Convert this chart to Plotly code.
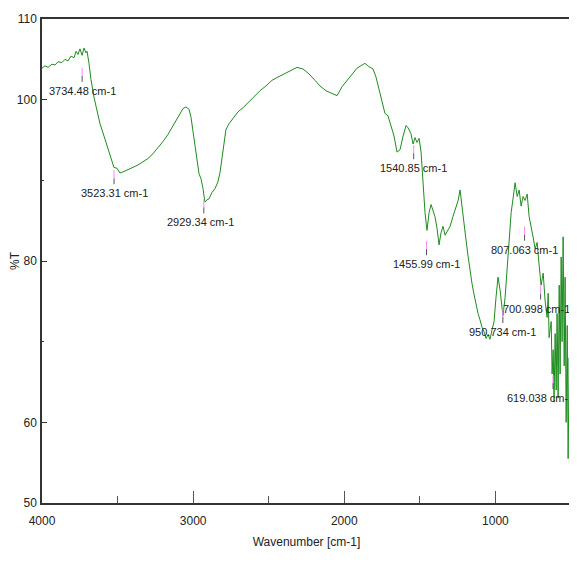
import plotly.graph_objects as go

# Spectrum (wavenumber cm-1, %T)
wavenumber = [4000, 3980, 3960, 3934, 3914, 3894, 3868, 3848, 3828, 3808, 3788, 3775, 3762, 3749, 3735,
              3722, 3709, 3702, 3689, 3676, 3656, 3636, 3616, 3590, 3563, 3544, 3524, 3504, 3484, 3457,
              3431, 3398, 3365, 3332, 3299, 3266, 3233, 3200, 3166, 3140, 3113, 3087, 3067, 3047, 3027,
              3014, 3001, 2988, 2974, 2961, 2948, 2935, 2922, 2908, 2895, 2875, 2855, 2836, 2822, 2809,
              2796, 2783, 2763, 2736, 2703, 2670, 2637, 2597, 2558, 2518, 2478, 2439, 2399, 2359, 2313,
              2273, 2234, 2194, 2161, 2121, 2088, 2048, 2015, 1982, 1949, 1916, 1882, 1863, 1837, 1810,
              1790, 1770, 1750, 1731, 1711, 1691, 1671, 1651, 1631, 1611, 1591, 1578, 1559, 1545, 1532,
              1519, 1505, 1492, 1479, 1466, 1453, 1439, 1426, 1413, 1400, 1386, 1373, 1360, 1347, 1333,
              1320, 1300, 1281, 1261, 1247, 1234, 1221, 1207, 1194, 1181, 1168, 1155, 1141, 1128, 1115,
              1102, 1089, 1075, 1062, 1049, 1036, 1022, 1009, 996, 983, 970, 956, 950, 936, 923,
              910, 896, 883, 870, 856, 843, 830, 817, 804, 790, 777, 764, 751, 737, 724,
              711, 698, 684, 671, 658, 651, 645, 631, 625, 618, 612, 605, 598, 592, 585,
              578, 572, 565, 559, 552, 545, 539, 532, 525, 519, 512, 506, 500]
transmittance = [103.9, 104.2, 104.0, 104.4, 104.3, 104.7, 104.6, 105.0, 104.8, 105.4, 105.2, 106.0, 105.6, 106.3, 105.5,
                 106.4, 105.8, 106.0, 104.5, 102.5, 100.3, 98.5, 97.0, 95.5, 93.8, 92.7, 91.6, 91.5, 90.9, 91.1,
                 91.3, 91.6, 91.9, 92.3, 92.7, 93.3, 94.0, 94.8, 95.7, 96.5, 97.4, 98.3, 98.9, 99.1, 98.8,
                 97.8, 96.0, 94.0, 92.5, 90.8, 90.2, 89.0, 87.3, 87.6, 87.7, 88.5, 89.0, 89.8, 91.0, 93.0,
                 95.0, 96.3, 97.0, 97.7, 98.5, 99.0, 99.6, 100.4, 101.1, 101.7, 102.4, 102.8, 103.2, 103.5, 104.0,
                 103.8, 103.2, 102.4, 101.7, 101.1, 100.8, 100.5, 101.6, 102.4, 103.2, 103.9, 104.3, 104.5, 104.1, 103.8,
                 102.8, 101.3, 99.5, 98.3, 98.0, 96.8, 95.5, 93.5, 93.8, 95.5, 96.8, 96.5, 95.8, 94.5, 95.3,
                 94.7, 95.2, 93.5, 89.0, 86.0, 83.8, 86.0, 87.0, 86.2, 85.5, 84.0, 82.0, 83.5, 84.3, 83.2,
                 83.6, 84.3, 85.5, 86.6, 87.5, 88.8, 86.5, 84.3, 82.5, 80.6, 78.5, 77.2, 75.8, 74.5, 73.5,
                 72.7, 71.8, 71.2, 70.4, 70.9, 70.3, 71.5, 72.5, 75.5, 78.0, 76.5, 74.0, 73.2, 75.5, 79.0,
                 82.5, 86.0, 87.8, 89.7, 88.0, 88.8, 86.8, 88.0, 87.5, 88.3, 85.5, 84.0, 83.0, 81.5, 82.3,
                 79.5, 77.0, 78.5, 75.0, 73.0, 76.0, 70.5, 72.5, 66.0, 69.0, 62.5, 71.0, 64.0, 73.5, 63.0,
                 77.0, 66.0, 80.5, 70.0, 83.0, 67.0, 78.0, 60.0, 72.0, 55.5, 68.0, 57.0, 62.0]

# Peak labels
peak_wn = [3734.48, 3523.31, 2929.34, 1540.85, 1455.99, 950.734, 807.063, 700.998, 619.038]
peak_text = ["3734.48 cm-1", "3523.31 cm-1", "2929.34 cm-1", "1540.85 cm-1", "1455.99 cm-1",
             "950.734 cm-1", "807.063 cm-1", "700.998 cm-1", "619.038 cm-1"]
peak_label_y = [101.1, 88.4, 84.8, 91.5, 79.6, 71.2, 81.4, 74.1, 63.0]
peak_label_shift = [0, 0, -3, 0, 0, 0, 0, -4, -13]

x_ticks = [4000, 3000, 2000, 1000, 500]
x_minor = [3500, 2500, 1500]
y_ticks = [50, 60, 80, 100, 110]
y_minor = [70, 90]

FONT = "Liberation Sans Narrow, Liberation Sans, Arial, sans-serif"

fig = go.Figure()
fig.add_trace(go.Scatter(x=wavenumber, y=transmittance, mode="lines",
                         line=dict(color="#1e8c1e", width=1), hoverinfo="skip"))

for wn, txt, ly, sh in zip(peak_wn, peak_text, peak_label_y, peak_label_shift):
    fig.add_annotation(x=wn, y=ly, text=txt, showarrow=False, xshift=sh,
                       font=dict(family=FONT, size=11, color="#222"))
    fig.add_shape(type="line", xref="x", yref="y", x0=wn, x1=wn,
                  ysizemode="pixel", yanchor=ly, y0=9, y1=15,
                  line=dict(color="#555", width=1))
    fig.add_shape(type="line", xref="x", yref="y", x0=wn, x1=wn,
                  ysizemode="pixel", yanchor=ly, y0=15, y1=23,
                  line=dict(color="#ff88ff", width=1))

# page body has an 8px margin: figure sized so the plot area lands on the reference
fig.update_layout(
    width=569, height=557,
    margin=dict(l=34, r=6, t=11, b=62),
    paper_bgcolor="white", plot_bgcolor="white",
    showlegend=False,
    font=dict(family=FONT, size=12, color="#222"),
)
fig.update_xaxes(
    range=[4000, 500], autorange=False, automargin=False,
    tickvals=x_ticks, ticktext=[str(v) for v in x_ticks],
    ticks="inside", ticklen=12, tickcolor="#555", tickwidth=1,
    minor=dict(tickvals=x_minor, ticks="inside", ticklen=7, tickcolor="#555"),
    showline=True, linecolor="#333", linewidth=1.5, mirror=True,
    showgrid=False, zeroline=False, ticklabelstandoff=6,
    title=dict(text="Wavenumber [cm-1]", standoff=10, font=dict(family=FONT, size=12)),
    tickfont=dict(family=FONT, size=12),
)
fig.update_yaxes(
    range=[50, 110], autorange=False, automargin=False,
    tickvals=y_ticks, ticktext=[str(v) for v in y_ticks],
    ticks="inside", ticklen=5, tickcolor="#333", tickwidth=1,
    minor=dict(tickvals=y_minor, ticks="inside", ticklen=2, tickcolor="#333"),
    showline=True, linecolor="#333", linewidth=1.5, mirror=True,
    showgrid=False, zeroline=False, ticklabelstandoff=1,
    title=dict(text="%T", standoff=2, font=dict(family=FONT, size=12)),
    tickfont=dict(family=FONT, size=12),
)

fig.write_html("out.html")
